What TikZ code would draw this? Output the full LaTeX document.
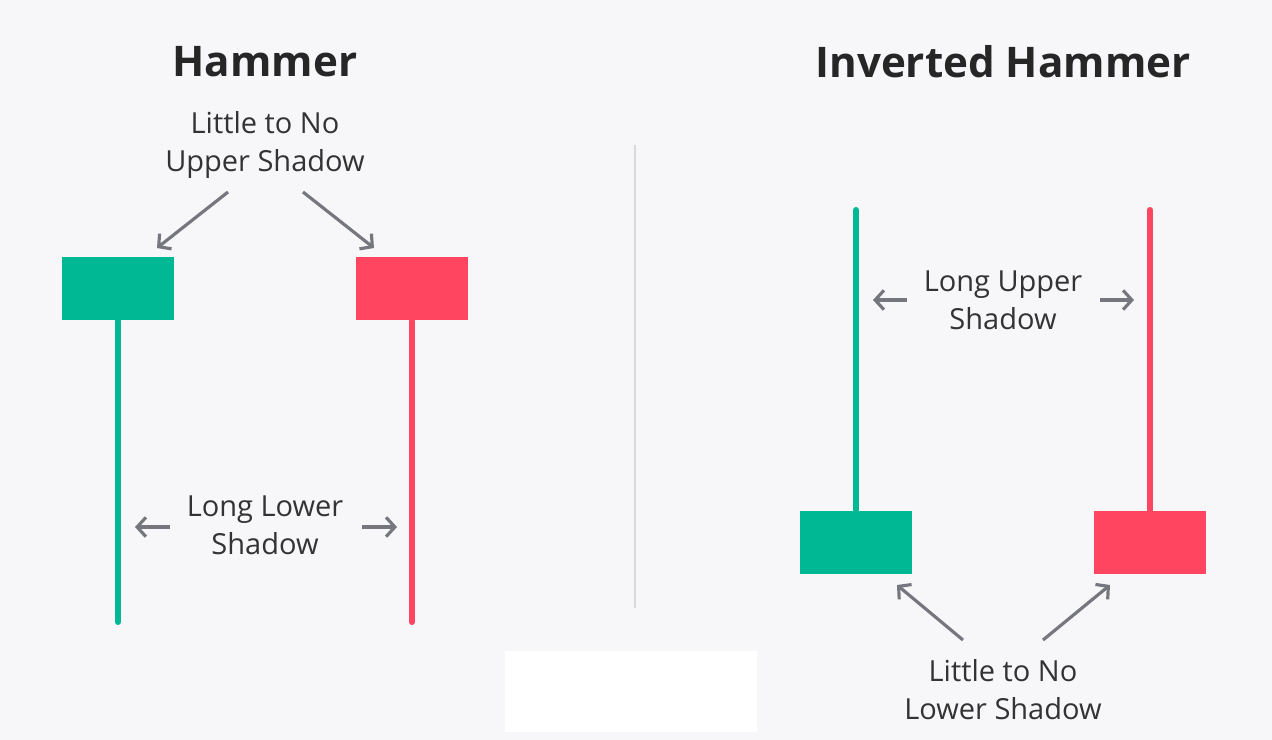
\documentclass[tikz,border=0pt]{standalone}
\usepackage{fontspec}
\setmainfont{Open Sans}
\usetikzlibrary{arrows.meta}
\definecolor{bg}{HTML}{F7F7F9}
\definecolor{bull}{HTML}{00B894}
\definecolor{bear}{HTML}{FF4560}
\definecolor{pointer}{HTML}{76767E}
\tikzstyle{title} = [font=\fontsize{24}{28}\selectfont\bfseries, text=black!85]
\tikzstyle{label} = [align=center, font=\fontsize{16.5}{21.5}\selectfont, text=black!80]
\tikzstyle{body} = [rectangle, minimum width=2.24cm, minimum height=1.26cm, inner sep=0pt]
\tikzstyle{wick} = [line width=3.4pt, line cap=round]
\tikzstyle{pointer} = [draw=pointer, line width=1.8pt, -{Straight Barb[length=5pt,width=11pt]}]

\begin{document}
\begin{tikzpicture}[x=0.02cm, y=-0.02cm, style=very thick]
    \fill[bg] (0,0) rectangle (1272,740);
    \fill[white] (505,651) rectangle (757,732);
    \draw[line width=0.8pt, black!15] (635,145) -- (635,608);
    % hammer
    \node[title] (hammer) at (265,62) {Hammer};
    \node[label] (upper) at (265,145) {Little to No\\Upper Shadow};
    \node[body, fill=bull] (gbody) at (118,288.5) {};
    \node[body, fill=bear] (rbody) at (412,288.5) {};
    \coordinate (gtail) at (118,622);
    \coordinate (rtail) at (412,622);
    \draw[wick, bull] (gbody.south) -- (gtail);
    \draw[wick, bear] (rbody.south) -- (rtail);
    \node[label] (lower) at (265,525) {Long Lower\\Shadow};
    \path[pointer] (228,192) -- (157,248);
    \path[pointer] (303,192) -- (374,248);
    \path[pointer] (170,527) -- (135,527);
    \path[pointer] (362,527) -- (397,527);
    % inverted hammer
    \node[title] (inverted) at (1003,62) {Inverted Hammer};
    \node[body, fill=bull] (gbodyi) at (856,542.5) {};
    \node[body, fill=bear] (rbodyi) at (1150,542.5) {};
    \coordinate (gtop) at (856,210);
    \coordinate (rtop) at (1150,210);
    \draw[wick, bull] (gbodyi.north) -- (gtop);
    \draw[wick, bear] (rbodyi.north) -- (rtop);
    \node[label] (longup) at (1003,300) {Long Upper\\Shadow};
    \node[label] (lowershadow) at (1003,690) {Little to No\\Lower Shadow};
    \path[pointer] (907,300) -- (873,300);
    \path[pointer] (1100,300) -- (1134,300);
    \path[pointer] (963,640) -- (897,585);
    \path[pointer] (1043,640) -- (1110,585);
\end{tikzpicture}
\end{document}
